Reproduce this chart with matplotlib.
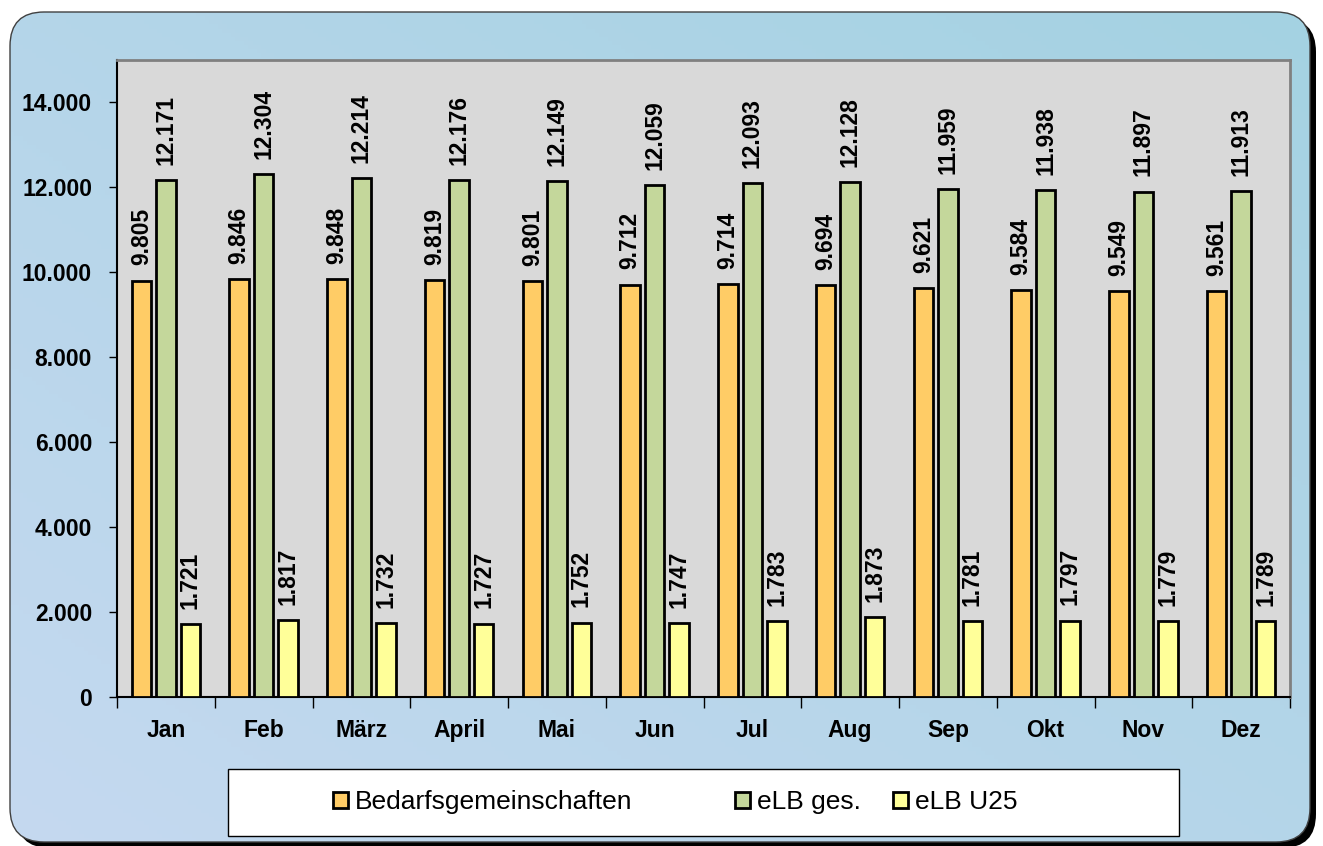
import numpy as np
import matplotlib
matplotlib.use("Agg")
import matplotlib.pyplot as plt
from matplotlib.patches import FancyBboxPatch, Rectangle
from matplotlib.ticker import FuncFormatter, FixedLocator

plt.rcParams['font.family'] = ['Liberation Sans', 'DejaVu Sans']

months = ["Jan", "Feb", "März", "April", "Mai", "Jun", "Jul", "Aug", "Sep", "Okt", "Nov", "Dez"]
bedarf = [9805, 9846, 9848, 9819, 9801, 9712, 9714, 9694, 9621, 9584, 9549, 9561]
elb_ges = [12171, 12304, 12214, 12176, 12149, 12059, 12093, 12128, 11959, 11938, 11897, 11913]
elb_u25 = [1721, 1817, 1732, 1727, 1752, 1747, 1783, 1873, 1781, 1797, 1779, 1789]
series_names = ["Bedarfsgemeinschaften", "eLB ges.", "eLB U25"]
colors = ["#FFCC66", "#C4D79B", "#FFFF99"]

W, H = 1323, 846
fig = plt.figure(figsize=(W / 100, H / 100), dpi=100)

# background: rounded frame, black shadow, blue gradient
bgax = fig.add_axes([0, 0, 1, 1])
bgax.set_xlim(0, W)
bgax.set_ylim(H, 0)
bgax.axis("off")
shadow = FancyBboxPatch((16, 18), 1300, 830, boxstyle="round,pad=0,rounding_size=34",
                        fc="black", ec="none")
bgax.add_patch(shadow)
frame = FancyBboxPatch((10, 12), 1300, 830, boxstyle="round,pad=0,rounding_size=34",
                       fc="none", ec="#404040", lw=1)
yy, xx = np.mgrid[0:1:200j, 0:1:300j]
t = (xx + (1 - yy)) / 2
c0 = np.array([197, 217, 240]) / 255
c1 = np.array([164, 210, 226]) / 255
grad = c0[None, None, :] * (1 - t[..., None]) + c1[None, None, :] * t[..., None]
im = bgax.imshow(grad, extent=(10, 1310, 842, 12), aspect="auto", zorder=1)
im.set_clip_path(FancyBboxPatch((10, 12), 1300, 830, boxstyle="round,pad=0,rounding_size=34",
                                transform=bgax.transData))
bgax.add_patch(frame)
frame.set_zorder(2)

# legend box
bgax.add_patch(Rectangle((228, 769), 951, 67, fc="white", ec="black", lw=1, zorder=3))

ax = fig.add_axes([117 / W, 1 - 697 / H, (1290 - 117) / W, (697 - 60) / H])
ax.set_facecolor("#D9D9D9")

x = np.arange(len(months))
bw = 0.2
offs = [-0.25, 0, 0.25]
bars = []
for vals, off, col in zip([bedarf, elb_ges, elb_u25], offs, colors):
    b = ax.bar(x + off, vals, width=bw, color=col, edgecolor="black", linewidth=2, zorder=3)
    bars.append(b)
    for xi, v in zip(x, vals):
        ax.annotate(f"{v:,}".replace(",", "."), (xi + off, v), xytext=(0, 11),
                    textcoords="offset points", rotation=90, ha="center", va="bottom",
                    fontsize=16.5, fontweight="bold")

ax.set_xlim(-0.5, len(months) - 0.5)
ax.set_ylim(0, 15000)
ax.set_yticks(np.arange(0, 14001, 2000))
ax.yaxis.set_major_formatter(FuncFormatter(lambda v, p: f"{int(v):,}".replace(",", ".")))
ax.set_xticks(x)
ax.set_xticklabels(months)
ax.xaxis.set_minor_locator(FixedLocator(np.arange(-0.5, len(months), 1)))
ax.tick_params(axis="x", which="major", length=0, pad=16)
ax.tick_params(axis="x", which="minor", length=8, width=1, direction="out")
ax.tick_params(axis="y", length=6, width=1, direction="out", pad=12)
for lab in ax.get_xticklabels() + ax.get_yticklabels():
    lab.set_fontsize(16.5)
    lab.set_fontweight("bold")
ax.spines["left"].set_linewidth(1.5)
ax.spines["bottom"].set_linewidth(1.5)
for s in ["top", "right"]:
    ax.spines[s].set_color("#808080")
    ax.spines[s].set_linewidth(2)

# one legend per entry so the spacing follows the original
leg_x = [333, 735, 893]
for b, name, lx in zip(bars, series_names, leg_x):
    leg = fig.legend([b[0]], [name], loc="center left", bbox_to_anchor=(lx / W, 1 - 802 / H),
                     frameon=False, fontsize=19, handlelength=0.55, handleheight=0.55,
                     handletextpad=0.27, borderpad=0, borderaxespad=0)
    leg.set_zorder(5)

fig.savefig("out.png", dpi=100)
